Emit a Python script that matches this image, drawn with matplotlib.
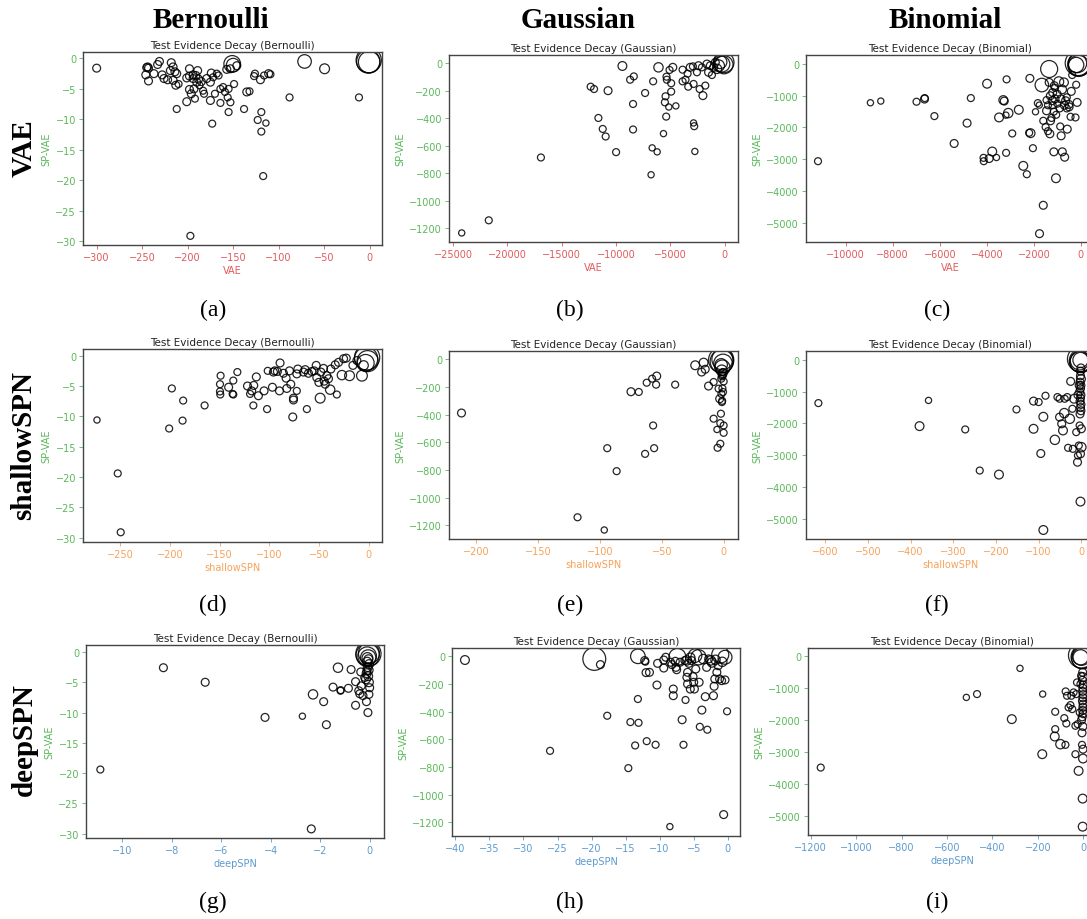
import matplotlib
matplotlib.use("Agg")
import matplotlib.pyplot as plt
from matplotlib.ticker import MultipleLocator

# ---------------- data ----------------
columns = ["Bernoulli", "Gaussian", "Binomial"]
rows = ["VAE", "shallowSPN", "deepSPN"]
panel_letters = ["(a)", "(b)", "(c)", "(d)", "(e)", "(f)", "(g)", "(h)", "(i)"]
y_label = "SP-VAE"

# (a) Bernoulli, VAE vs SP-VAE
a_x = [-300, -244, -243, -245, -246, -243, -237, -233, -231, -228, -226, -222, -219, -218, -216, -216, -214, -213,
       -212, -212, -210, -201, -201, -198, -198, -198, -197, -196, -194, -194, -193, -192, -191, -190, -189, -188,
       -187, -185, -183, -182, -179, -175, -175, -174, -173, -172, -170, -168, -166, -164, -164, -161, -159, -157,
       -156, -155, -155, -153, -153, -151, -150, -149, -146, -138, -135, -132, -127, -126, -123, -120, -119, -119,
       -117, -116, -114, -111, -109, -88, -71.5, -49.5, -11.7, -1.0, -1.5, -0.5]
a_y = [-1.6, -1.4, -1.6, -1.5, -2.7, -3.7, -2.5, -1.0, -0.5, -2.7, -3.3, -3.5, -2.0, -0.7, -1.4, -3.6, -2.2, -4.4,
       -2.5, -8.3, -4.2, -7.1, -3.2, -1.7, -2.9, -5.1, -29.1, -5.8, -2.7, -3.3, -5.0, -6.6, -2.8, -3.9, -2.0, -3.4,
       -4.4, -3.8, -5.3, -5.8, -3.3, -3.9, -6.9, -2.4, -10.7, -3.1, -5.8, -2.5, -2.8, -5.0, -7.3, -4.7, -5.5, -1.8,
       -6.4, -5.0, -8.8, -1.7, -7.2, -0.9, -1.1, -4.2, -1.2, -8.3, -5.5, -5.4, -2.9, -2.5, -10.1, -3.5, -8.8, -12.0,
       -19.3, -2.8, -10.6, -2.5, -2.6, -6.4, -0.5, -1.7, -6.4, -0.3, -0.5, -0.6]
a_s = [32, 32, 32, 32, 32, 32, 32, 32, 32, 32, 32, 32, 32, 32, 32, 32, 32, 32,
       32, 25, 25, 32, 32, 32, 32, 32, 25, 32, 32, 32, 32, 25, 32, 32, 32, 32,
       25, 32, 25, 25, 32, 32, 32, 32, 25, 25, 25, 25, 25, 25, 25, 25, 25, 32,
       25, 25, 25, 32, 25, 144, 95, 25, 32, 25, 32, 25, 25, 25, 25, 32, 25, 25,
       25, 25, 20, 32, 25, 25, 95, 50, 25, 330, 280, 240]

# (b) Gaussian, VAE vs SP-VAE
b_x = [-24200, -21710, -16910, -12330, -12020, -11620, -11220, -10950, -10730, -9990, -9410, -8700, -8430, -8430,
       -8360, -7320, -6770, -6670, -6580, -6210, -6090, -5630, -5500, -5440, -5380, -5350, -5320, -5140, -5070,
       -4920, -4920, -4770, -4490, -3870, -3870, -3600, -3410, -3350, -3170, -2920, -2860, -2860, -2800, -2740,
       -2550, -2400, -2300, -2090, -2000, -1780, -1630, -1480, -1320, -1170, -1010, -860, -700, -550, -400, -250,
       -90, -60]
b_y = [-1236, -1144, -686, -170, -187, -398, -478, -533, -199, -647, -19, -119, -296, -482,
       -95, -216, -812, -616, -131, -645, -29, -512, -284, -240, -388, -97, -119, -318, -48,
       -145, -206, -29, -310, -46, -131, -119, -75, -170, -29, -22, -150, -434, -458, -642,
       -65, -17, -187, -29, -235, -162, -5, -65, -17, -85, -29, 7, -40, -17, 10, -5,
       7, -10]
b_s = [20, 25, 25, 25, 25, 25, 25, 25, 32, 25, 40, 25, 25, 25,
       25, 25, 20, 20, 25, 20, 45, 20, 25, 25, 25, 25, 25, 20, 25,
       25, 25, 32, 20, 25, 25, 25, 25, 25, 32, 25, 25, 20, 25, 20,
       25, 32, 25, 25, 32, 25, 32, 32, 32, 25, 32, 32, 45, 70, 90, 130,
       220, 170]

# (c) Binomial, VAE vs SP-VAE
c_x = [-11180, -8950, -8510, -6990, -6650, -6640, -6230, -5390, -4840, -4680, -4140, -4130, -3990, -3900, -3770,
       -3590, -3480, -3300, -3260, -3190, -3180, -3160, -3090, -2920, -2640, -2450, -2300, -2200, -2170, -2140,
       -2040, -1930, -1830, -1770, -1760, -1660, -1600, -1600, -1500, -1460, -1460, -1400, -1350, -1350, -1320,
       -1290, -1220, -1150, -1130, -1060, -1010, -940, -880, -840, -790, -720, -690, -650, -580, -510, -440, -410,
       -370, -230, -200, -160, -1300, -1200, -1100, -1000, -900, -850, -1400, -1250, -1150, -1050, -700, -600,
       -500, -800, -1200, -1100, -600, -130, -60, -100, -150, -200]
c_y = [-3063, -1221, -1168, -1189, -1105, -1074, -1642, -2505, -1863, -1074, -2958, -3063, -621, -2979, -2758,
       -2947, -1684, -1137, -1168, -1611, -2800, -484, -1547, -2189, -1442, -3210, -3474, -2168, -453, -2179,
       -2653, -1505, -1232, -1295, -5347, -663, -4453, -1789, -1989, -1137, -1474, -2116, -158, -579, -2200,
       -1789, -1158, -2768, -684, -3600, -947, -558, -1968, -2263, -2768, -579, -2937, -1158, -2053, -1274, -1663,
       -863, -347, -1684, -653, -1210, -1000, -1300, -1100, -1250, -1400, -1100, -1300, -1700, -1500, -1600,
       -1300, -1400, -1350, -800, -900, -750, -1050, 30, -10, -60, 20, -30]
c_s = [25, 20, 20, 25, 32, 25, 25, 32, 32, 25, 25, 25, 40, 32, 40,
       20, 40, 40, 32, 20, 25, 25, 45, 25, 40, 40, 25, 25, 32, 40,
       25, 20, 25, 20, 32, 95, 32, 25, 25, 25, 32, 25, 150, 32, 32,
       32, 32, 32, 32, 40, 32, 50, 25, 32, 32, 40, 32, 32, 32, 32, 25, 32,
       25, 25, 25, 32, 32, 25, 32, 25, 25, 32, 25, 25, 25, 25, 32, 25,
       32, 40, 32, 25, 25, 330, 280, 230, 180, 120]

# (d) Bernoulli, shallowSPN vs SP-VAE
d_x = [-273.6, -252.7, -249.7, -200.9, -198.2, -187.4, -186.8, -165.2, -149.1, -149.7, -149.7, -149.4, -141,
       -136.3, -137, -136.3, -132.2, -122, -119.4, -117.8, -116.1, -115.7, -113.1, -111, -105.3, -102.3, -101.6,
       -96.9, -95.9, -94.5, -91.9, -89.8, -89.2, -85.8, -83.1, -82.4, -79.7, -78.4, -76.4, -75.7, -75.7, -72.3,
       -72.3, -71.3, -65.6, -63.9, -62.2, -60.6, -57.2, -54.8, -52.8, -52.2, -50.1, -48.8, -48.1, -45.4, -44.7,
       -43.7, -42.1, -40.4, -38.7, -38, -33.6, -32, -30.3, -26.9, -25.2, -22.5, -19.2, -15.8, -11.8, -6.7, -5,
       -1.5, -2.5, -1.0, -3.0]
d_y = [-10.6, -19.4, -29.1, -12.0, -5.4, -10.7, -7.4, -8.2, -3.3, -4.7, -5.9, -6.4, -5.2,
       -4.1, -6.3, -6.4, -2.7, -5.0, -6.3, -5.8, -8.2, -4.9, -3.5, -6.6, -5.8, -8.8, -2.5,
       -5.2, -2.7, -2.5, -2.6, -5.8, -1.2, -2.9, -3.7, -5.4, -2.5, -4.7, -10.1, -7.0, -7.3, -3.0,
       -5.8, -2.2, -2.7, -2.3, -8.8, -2.9, -2.6, -2.5, -1.6, -3.6, -4.4, -7.0, -2.7, -2.1, -4.2,
       -4.7, -3.3, -3.8, -5.6, -2.2, -1.5, -6.4, -1.1, -3.2, -0.5, -0.4, -3.3, -1.6, -0.8, -3.3, -1.6,
       -0.3, -0.5, -0.9, -1.2]
d_s = [20, 25, 25, 25, 25, 25, 25, 25, 25, 25, 25, 25, 32,
       25, 25, 25, 25, 32, 25, 32, 25, 32, 32, 32, 32, 25, 25,
       32, 32, 32, 32, 32, 32, 32, 32, 32, 32, 32, 32, 32, 32, 32,
       25, 32, 32, 32, 25, 32, 32, 32, 32, 32, 32, 50, 32, 32, 32,
       32, 32, 32, 45, 32, 32, 25, 32, 45, 32, 32, 50, 32, 32, 60, 45,
       330, 280, 230, 150]

# (e) Gaussian, shallowSPN vs SP-VAE
e_x = [-211.9, -118.1, -96.5, -94.1, -86.5, -74.9, -68.6, -63.5, -62.2, -57.8, -57.0, -56.2, -54.6, -54.1, -39.2,
       -23, -16.2, -17.8, -14.9, -12.2, -8.1, -8.1, -5.4, -4.9, -4.1, -3.2, -2.7, -2.2, -2.7, -1.4, -0.5, 0, 0,
       -1.9, -0.5, -1.0, 0.0, -1.8, -1.2, -1.0, -2.0, -1.5, -1.0, -0.5, -1.0, -2.0, -1.5, -0.7, -1.2]
e_y = [-388, -1141, -1233, -642, -808, -234, -236, -683, -169, -140, -478, -642, -183, -121, -183,
       -43, -24, -92, -72, -193, -164, -429, -507, -639, -212, -285, -610, -393, -461, -309, -236, -478, -531,
       -140, -92, -115, -160, -250, -300, -210, -5, -15, 0, -30, -60, -40, -80, -100, -120]
e_s = [32, 25, 20, 25, 25, 32, 25, 25, 25, 25, 25, 25, 25, 32, 25,
       40, 40, 32, 32, 32, 25, 25, 20, 25, 25, 32, 25, 25, 25, 25, 25, 25, 25,
       25, 25, 25, 25, 25, 25, 25, 330, 280, 230, 180, 120, 80, 60, 40, 32]

# (f) Binomial, shallowSPN vs SP-VAE
f_x = [-616, -358, -379, -272, -238, -193, -152, -112, -112, -100, -95, -89, -89, -84, -62, -56, -51, -51, -46, -43,
       -40, -39, -33, -31, -27, -25, -21, -20, -17, -12, -9, -8, -6, -4, -2, -2, 0, 0,
       -2, -1, -3, -1, -2, -4, -1, -2, -3, -1, -2, -1, -3, -5, -8, -2, -1,
       -3, -1, -2, -4, -2]
f_y = [-1358, -1274, -2084, -2189, -3484, -3611, -1558, -1295, -2168, -1326, -2947, -1789, -5358, -1126, -2516,
       -1168, -1221, -1800, -2011, -2221, -1674, -1221, -1168, -2768, -1853, -674, -1537, -2800, -1221, -2274,
       -3221, -3011, -2695, -2063, -4463, -2958, -2747, -2168,
       -500, -600, -700, -800, -900, -1000, -1100, -1200, -1300, -1400, -1500, -1600, -1700, -800, -1100, -350, -250,
       30, -30, -60, -20, 0]
f_s = [25, 20, 40, 25, 25, 40, 25, 32, 40, 25, 32, 40, 40, 25, 45, 25, 25, 32, 32, 40,
       45, 25, 25, 25, 45, 32, 25, 25, 40, 25, 32, 25, 25, 25, 40, 32, 45, 32,
       32, 40, 32, 32, 32, 32, 32, 32, 32, 32, 32, 32, 32, 32, 32, 32, 32,
       330, 280, 230, 180, 120]

# (g) Bernoulli, deepSPN vs SP-VAE
g_x = [-10.89, -8.34, -6.65, -4.23, -2.72, -2.36, -2.29, -1.86, -1.75, -1.48, -1.28, -1.18, -1.17, -0.86, -0.75,
       -0.57, -0.57, -0.44, -0.40, -0.36, -0.34, -0.27, -0.20, -0.13, -0.11, -0.07, -0.03, 0.0,
       -0.05, -0.1, -0.02, -0.08, -0.04, -0.12, -0.06, -0.15, -0.03, -0.09,
       -0.05, -0.08, -0.03, -0.1, -0.06]
g_y = [-19.4, -2.6, -5.0, -10.8, -10.6, -29.2, -7.0, -8.2, -12.0, -5.8, -2.6, -6.4, -6.3, -6.0, -2.9,
       -4.9, -8.8, -6.4, -6.9, -3.3, -5.6, -7.2, -4.2, -8.2, -3.1, -10.0, -7.0, -5.9,
       -1.2, -1.6, -2.0, -2.5, -3.0, -3.5, -4.0, -4.5, -5.0, -1.0,
       -0.3, -0.5, -0.2, -0.7, -0.9]
g_s = [25, 32, 32, 32, 20, 32, 45, 32, 32, 32, 45, 25, 25, 32, 32,
       32, 32, 32, 32, 32, 32, 32, 32, 32, 32, 32, 32, 32,
       40, 40, 40, 40, 40, 40, 40, 40, 40, 60,
       330, 280, 230, 180, 120]

# (h) Gaussian, deepSPN vs SP-VAE
h_x = [-38.6, -26.1, -19.6, -18.7, -17.7, -14.6, -14.3, -13.6, -13.2, -13.2, -13.1, -12.2, -12.1, -12.0, -11.9,
       -11.5, -10.6, -10.4, -10.3, -9.4, -9.4, -9.1, -8.5, -8.4, -8.2, -8.0, -8.0, -7.7, -7.6, -7.5, -7.4, -7.0,
       -6.7, -6.5, -6.3, -6.2, -6.0, -5.9, -5.9, -5.7, -5.5, -5.3, -5.1, -5.0, -4.9, -4.8, -4.7, -4.3, -4.2, -4.1,
       -3.0, -3.8, -3.3, -3.1, -2.8, -2.1, -2.0, -1.9, -1.6, -1.4, -1.2, -1.1, -0.9, -0.6, -0.4, -0.1, -0.4,
       -6.0, -5.5, -3.6, -2.5, -2.3, -1.8, -0.8]
h_y = [-27, -684, -19, -60, -430, -809, -476, -645, -309, 0, -481, -31, -39, -118, -614,
       -116, -640, -208, -51, -27, -85, -7, -1232, -43, -60, -237, -285, -36, -80, -97, -5, -43,
       -459, -640, -31, -316, -152, -116, -200, -51, -237, -31, -147, -188, -237, 5, -92, -7, -188, -510,
       -531, -389, -292, -80, -19, -285, -217, -164, -116, -68, -164, 12, -176, -1145, -171, -398, -7,
       -30, -10, -20, -30, -45, -25, -40]
h_s = [40, 25, 270, 32, 25, 25, 25, 25, 25, 110, 25, 32, 25, 32, 25,
       32, 25, 32, 32, 32, 32, 32, 20, 32, 32, 32, 32, 32, 32, 32, 150, 32,
       32, 25, 32, 25, 32, 32, 32, 32, 32, 32, 32, 32, 32, 95, 32, 120, 32, 25,
       25, 32, 32, 32, 32, 32, 32, 32, 32, 32, 32, 150, 32, 32, 32, 25, 100,
       45, 45, 45, 45, 45, 45, 45]

# (i) Binomial, deepSPN vs SP-VAE
i_x = [-1156, -515, -468, -315, -279, -181, -179, -124, -124, -126, -101, -84, -78, -75, -79, -72, -65, -57, -53,
       -49, -43, -35, -35, -31, -28, -25, -21, -16, -13, -10, -6, -3, -3, -1.5, -1.5,
       -3, -2, -4, -1, -2, -3, -1, -2, -4, -1, -2, -3, -1, -5, -8, -2, -6,
       -10, -3, -5, -8, -12]
i_y = [-3491, -1289, -1184, -1971, -377, -3071, -1184, -1740, -2285, -2516, -2757, -1939, -1101, -2107, -2778,
       -1237, -1604, -1530, -1237, -1656, -1132, -3071, -2180, -1184, -818, -2128, -3595, -1761, -870, -608,
       -2778, -4465, -5346, -3208, -2914,
       -500, -650, -750, -900, -1000, -1100, -1200, -1300, -1400, -1500, -1600, -1700, -1800, -1900, -2000,
       -2200, -2400,
       30, -20, -60, 10, -30]
i_s = [25, 20, 25, 40, 20, 40, 20, 25, 25, 40, 45, 25, 25, 25, 25, 25, 25, 25, 25,
       25, 25, 25, 25, 25, 25, 25, 40, 25, 25, 25, 25, 40, 40, 40, 32,
       32, 40, 32, 32, 32, 32, 32, 32, 32, 32, 32, 32, 32, 32, 32, 32, 32,
       330, 280, 230, 180, 120]

# ---------------- figure ----------------
W, H = 1087, 920
fig = plt.figure(figsize=(W / 100, H / 100), dpi=100)

row_colors = ["#e05a5c", "#f7a25a", "#5b9bd0"]
ycolor = "#5ab85a"

panels = [
    (a_x, a_y, a_s, (83, 53, 382, 246), (-315, 13.6), (-30.6, 1.05), 50, 5),
    (b_x, b_y, b_s, (449, 56, 738, 243), (-25370, 1230), (-1302, 61), 5000, 200),
    (c_x, c_y, c_s, (806, 56, 1095, 243), (-11690, 600), (-5610, 284), 2000, 1000),
    (d_x, d_y, d_s, (83, 350, 382, 543), (-287.7, 13.5), (-30.7, 1.1), 50, 5),
    (e_x, e_y, e_s, (449, 352, 738, 540), (-222, 11.6), (-1298, 60), 50, 200),
    (f_x, f_y, f_s, (806, 352, 1095, 540), (-645, 32), (-5642, 284), 100, 1000),
    (g_x, g_y, g_s, (86, 646, 384, 839), (-11.47, 0.58), (-30.7, 1.15), 2, 5),
    (h_x, h_y, h_s, (452, 649, 740, 837), (-40.5, 1.8), (-1300, 60), 5, 200),
    (i_x, i_y, i_s, (808, 649, 1097, 836), (-1212, 60), (-5608, 262), 200, 1000),
]

for k, (xs, ys, ss, box, xl, yl, xstep, ystep) in enumerate(panels):
    r, c = divmod(k, 3)
    l, t, rr, b = box
    ax = fig.add_axes([l / W, 1 - b / H, (rr - l) / W, (b - t) / H])
    ax.scatter(xs, ys, s=ss, facecolors="none", edgecolors="black", linewidths=0.9, alpha=0.85)
    ax.set_xlim(*xl)
    ax.set_ylim(*yl)
    ax.xaxis.set_major_locator(MultipleLocator(xstep))
    ax.yaxis.set_major_locator(MultipleLocator(ystep))
    col = row_colors[r]
    ax.set_xlabel(rows[r], color=col, fontsize=7, labelpad=2)
    ax.set_ylabel(y_label, color=ycolor, fontsize=7, labelpad=3)
    ax.tick_params(axis="x", colors=col, labelsize=7, length=3, width=0.6, pad=2)
    ax.tick_params(axis="y", colors=ycolor, labelsize=7, length=3, width=0.6, pad=2)
    for sp in ax.spines.values():
        sp.set_color("#444444")
        sp.set_linewidth(1.0)
    ax.set_title("Test Evidence Decay (%s)" % columns[c], fontsize=7.5, color="#222222", pad=3)

# column headers
for c, (name, xc) in enumerate(zip(columns, [211, 578, 945])):
    fig.text(xc / W, 1 - 20 / H, name, ha="center", va="center", fontsize=21,
             fontweight="bold", family="Liberation Serif")

# row labels
for r, (name, yc) in enumerate(zip(rows, [148, 445, 740])):
    fig.text(24 / W, 1 - yc / H, name, ha="center", va="center", rotation=90, fontsize=21,
             fontweight="bold", family="Liberation Serif")

# panel letters
for k, lab in enumerate(panel_letters):
    r, c = divmod(k, 3)
    xc = [213, 570, 937][c]
    yc = [310, 605, 902][r]
    fig.text(xc / W, 1 - yc / H, lab, ha="center", va="center", fontsize=17, family="Liberation Serif")

fig.savefig("out.png", dpi=100)
